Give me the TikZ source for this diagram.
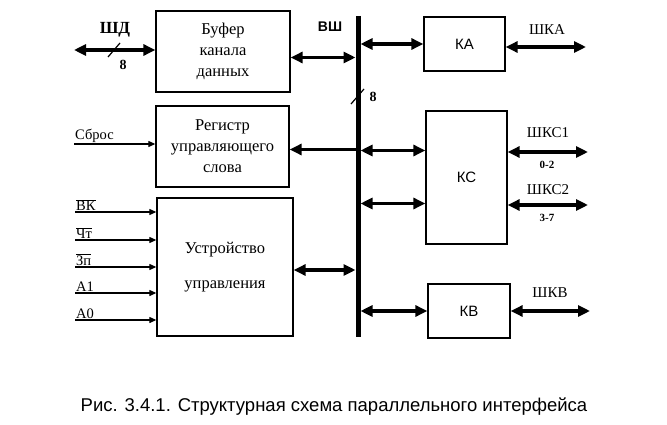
\documentclass[tikz,border=0pt]{standalone}
\usepackage{fontspec}
\setmainfont{Liberation Serif}
\newfontfamily\capfont{Liberation Sans}
\usetikzlibrary{arrows.meta}
\usetikzlibrary{positioning}
\tikzstyle{block} = [rectangle, draw=black, line width=1.3pt, inner sep=0pt, align=center, font=\fontsize{16.5}{21}\selectfont]
\tikzstyle{port} = [rectangle, draw=black, line width=1.3pt, inner sep=0pt, font=\capfont\fontsize{15}{16}\selectfont]
\tikzstyle{duplex} = [line width=3.5pt, {Triangle[length=12pt,width=11pt]}-{Triangle[length=12pt,width=11pt]}]
\tikzstyle{simplex} = [line width=1.1pt, -{Triangle[length=7pt,width=6pt]}]
\tikzstyle{sig} = [inner sep=1pt, font=\fontsize{14.5}{14}\selectfont]
\tikzstyle{width} = [inner sep=0pt, font=\bfseries\fontsize{11}{11}\selectfont]

\begin{document}
\begin{tikzpicture}[x=1pt, y=-1pt]
\useasboundingbox (0,0) rectangle (667,425);

% blocks
\node (buf) [block, minimum width=134pt, minimum height=81pt] at (223,51.5) {Буфер\\канала\\данных};
\node (reg) [block, minimum width=133pt, minimum height=81pt] at (222.5,146.5) {Регистр\\управляющего\\слова};
\node (ctl) [block, minimum width=136pt, minimum height=138pt] at (225,267) {Устройство\\[14pt]управления};
\node (ka) [port, minimum width=81pt, minimum height=54pt] at (464.5,44) {КА};
\node (kc) [port, minimum width=81pt, minimum height=133pt] at (466.5,177.5) {КС};
\node (kb) [port, minimum width=82pt, minimum height=54pt] at (469,311) {КВ};

% bus
\coordinate (bustop) at (358,16);
\coordinate (busbot) at (358,337);
\draw[line width=5pt] (bustop) -- (busbot);
\node (vsh) [font=\capfont\bfseries\fontsize{14}{16}\selectfont] at (330,27) {ВШ};
\draw[line width=1.2pt] (351,104) -- (364,89);
\node (busw) [width, font=\bfseries\fontsize{14}{14}\selectfont] at (373,97) {8};

% data bus
\coordinate (shd) at (74,50);
\draw[duplex] (shd) -- (shd -| buf.west);
\node (shdl) [sig, font=\bfseries\fontsize{17}{17}\selectfont] at (115,30) {ШД};
\draw[line width=1.2pt] (108,57) -- (120,43);
\node (shdw) [width, font=\bfseries\fontsize{14}{14}\selectfont] at (123,65) {8};

% inputs
\coordinate (sbros) at (74,144);
\draw[simplex] (sbros) -- (sbros -| reg.west);
\node (sbrosl) [sig, above right] at (sbros) {Сброс};
\foreach \txt/\yy in {{$\overline{\mbox{ВК}}$}/212, {$\overline{\mbox{Чт}}$}/240, {$\overline{\mbox{Зп}}$}/267, A1/293, A0/320} {
  \coordinate (in\yy) at (75,\yy);
  \draw[simplex] (in\yy) -- (in\yy -| ctl.west);
  \node[sig, above right] at (in\yy) {\txt};
}

% bus links
\draw[duplex, shorten >=2.5pt] ([yshift=-6pt]buf.east) -- ([yshift=-6pt]buf.east -| bustop);
\draw[line width=3.5pt, -{Triangle[length=12pt,width=11pt]}, shorten <=2.5pt] ([yshift=-3pt]reg.east -| bustop) -- ([yshift=-3pt]reg.east);
\draw[duplex, shorten >=2.5pt] ([yshift=-3pt]ctl.east) -- ([yshift=-3pt]ctl.east -| bustop);
\draw[duplex, shorten <=2.5pt] (ka.west -| bustop) -- (ka.west);
\draw[duplex, shorten <=2.5pt] ([yshift=27pt]kc.west -| bustop) -- ([yshift=27pt]kc.west);
\draw[duplex, shorten <=2.5pt] ([yshift=-26pt]kc.west -| bustop) -- ([yshift=-26pt]kc.west);
\draw[duplex, shorten <=2.5pt] (kb.west -| bustop) -- (kb.west);

% outputs
\coordinate (shka) at (586,47);
\draw[duplex] (shka -| ka.east) -- (shka);
\node (shkal) [sig, font=\fontsize{15}{15}\selectfont] at (547,30) {ШКА};
\coordinate (shkc1) at (588,152);
\draw[duplex] (shkc1 -| kc.east) -- (shkc1);
\node (shkc1l) [sig, font=\fontsize{15}{15}\selectfont] at (548,133) {ШКС1};
\node (shkc1w) [width] at (547,165) {0-2};
\coordinate (shkc2) at (588,205);
\draw[duplex] (shkc2 -| kc.east) -- (shkc2);
\node (shkc2l) [sig, font=\fontsize{15}{15}\selectfont] at (548,190) {ШКС2};
\node (shkc2w) [width] at (547,218) {3-7};
\coordinate (shkb) at (590,311);
\draw[duplex] (shkb -| kb.east) -- (shkb);
\node (shkbl) [sig, font=\fontsize{15}{15}\selectfont] at (550,293) {ШКВ};

% caption
\node (caption) [font=\capfont\fontsize{18.5}{20}\selectfont] at (334,407) {Рис. 3.4.1. Структурная схема параллельного интерфейса};
\end{tikzpicture}
\end{document}
